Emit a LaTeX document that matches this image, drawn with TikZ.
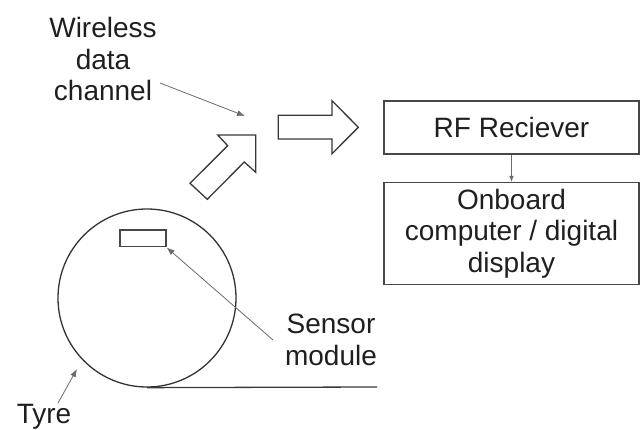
\documentclass[tikz,border=0pt]{standalone}
\usepackage{fontspec}
\setmainfont{Liberation Sans}
\usetikzlibrary{arrows.meta}
\begin{document}
\begin{tikzpicture}[x=1pt,y=-1pt,
  txt/.style={font=\fontsize{28}{31.5}\selectfont, text=black!88, inner sep=0pt, align=center},
  box/.style={draw=black!72, line width=1.4pt, inner sep=0pt},
  shape line/.style={draw=black!78, line width=1.3pt, line join=miter},
  pointer/.style={draw=black!58, line width=0.8pt, -{Latex[length=8pt,width=6pt]}},
  smallptr/.style={draw=black!58, line width=0.8pt, -{Latex[length=6pt,width=4.5pt]}}]
\useasboundingbox (0,0) rectangle (641,430);
% text labels
\node[txt] (wdc) at (103,59) {Wireless\\data\\channel};
\node[txt] (senslbl) at (331,340) {Sensor\\module};
\node[txt] (tyrelbl) at (44,417) {Tyre};
% boxes
\node[box, minimum width=255pt, minimum height=53pt] (rf) at (511.5,127.5) {};
\node[txt] at (rf.center) {RF Reciever};
\node[box, minimum width=255pt, minimum height=101.6pt] (ob) at (511.5,233.5) {};
\node[txt] at (ob.center) {Onboard\\computer / digital\\display};
\draw[smallptr] (rf.south) -- (ob.north);
% tyre
\node[circle, draw=black!80, line width=1.3pt, minimum size=178pt, inner sep=0pt] (tyre) at (147,298) {};
\node[box, line width=1.3pt, minimum width=46pt, minimum height=16.7pt] (sensor) at (143,238.5) {};
\coordinate (ground) at (377,387);
\draw[draw=black!78, line width=1.3pt] (tyre.south) -- (ground);
% block arrows
\draw[shape line] (217.7,135) -- (255.7,135) -- (255.7,172.3) -- (244.3,162) -- (207.3,199.3) -- (190,183.3) -- (227.7,145.7) -- cycle;
\draw[shape line] (278.3,115.3) -- (332,115.3) -- (332,100.7) -- (358.3,127.3) -- (332,153.7) -- (332,139) -- (278.3,139) -- cycle;
% pointers
\coordinate (wdcstart) at (160,83);
\coordinate (wdcend) at (245,116);
\draw[pointer] (wdcstart) -- (wdcend);
\coordinate (sensstart) at (273,340);
\draw[pointer] (sensstart) -- (sensor.south east);
\coordinate (tyrestart) at (58,403);
\coordinate (tyreend) at (77,369);
\draw[pointer] (tyrestart) -- (tyreend);
\end{tikzpicture}
\end{document}
